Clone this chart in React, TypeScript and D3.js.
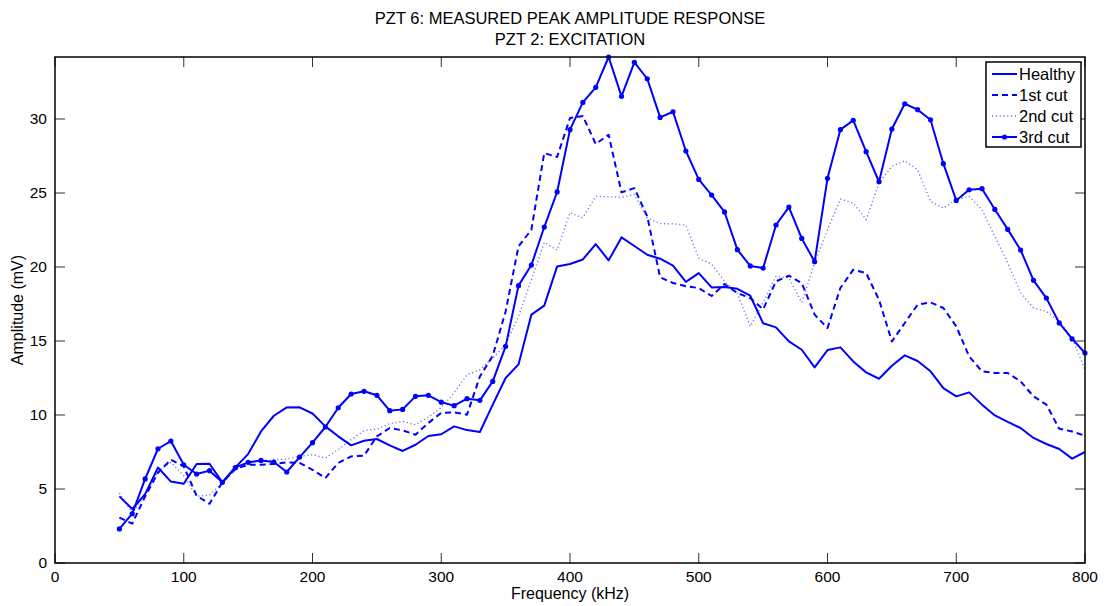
import React from "react";
import * as d3 from "d3";

// frequency samples (kHz)
const freqs = d3.range(50, 801, 10);

const healthy = [
  4.5, 3.65, 4.65, 6.45, 5.5, 5.35, 6.69, 6.71, 5.45, 6.46, 7.36, 8.89, 9.95, 10.51, 10.52, 10.1,
  9.23, 8.56, 7.95, 8.26, 8.38, 7.95, 7.57, 7.99, 8.58, 8.7, 9.23, 8.98, 8.85, 10.7, 12.5, 13.42,
  16.78, 17.39, 20.04, 20.2, 20.51, 21.55, 20.45, 22.0, 21.42, 20.83, 20.56, 20.09, 19.0, 19.59, 18.62, 18.65,
  18.53, 18.06, 16.2, 15.92, 14.97, 14.41, 13.22, 14.39, 14.57, 13.62, 12.88, 12.45, 13.33, 14.03, 13.65, 12.95,
  11.82, 11.26, 11.53, 10.7, 9.97, 9.53, 9.12, 8.45, 8.04, 7.7, 7.05, 7.5,
];

const cut1 = [
  3.07, 2.66, 4.5, 6.1, 6.98, 6.53, 4.55, 4.0, 5.45, 6.35, 6.64, 6.64, 6.7, 6.8, 6.76, 6.3,
  5.74, 6.76, 7.2, 7.25, 8.56, 9.12, 8.96, 8.67, 9.46, 10.15, 10.18, 10.02, 12.6, 14.0, 17.0, 21.39,
  22.52, 27.7, 27.43, 30.07, 30.2, 28.31, 28.94, 25.04, 25.33, 23.42, 19.3, 18.92, 18.7, 18.58, 18.04, 18.85,
  18.24, 17.9, 17.14, 19.03, 19.41, 18.92, 16.78, 15.88, 18.58, 19.82, 19.59, 17.79, 14.97, 16.22, 17.45, 17.61,
  17.23, 15.99, 13.96, 12.95, 12.84, 12.84, 12.27, 11.26, 10.7, 9.07, 8.89, 8.6,
];

const cut2 = [
  4.73, 3.38, 4.6, 6.2, 6.8, 5.9, 4.5, 4.61, 5.4, 6.3, 6.76, 6.93, 6.98, 7.03, 7.2, 7.32,
  7.09, 7.66, 8.33, 8.94, 9.05, 9.41, 9.57, 9.34, 9.86, 10.5, 11.5, 12.72, 13.06, 13.85, 14.75, 16.66,
  19.14, 21.66, 21.15, 23.67, 23.33, 24.77, 24.75, 24.7, 24.9, 23.3, 22.93, 22.92, 22.83, 20.6, 20.2, 19.03,
  18.2, 15.99, 17.6, 19.37, 19.26, 17.6, 20.27, 22.52, 24.59, 24.32, 23.2, 25.68, 26.8, 27.18, 26.57, 24.43,
  23.98, 24.55, 24.77, 23.87, 22.07, 20.27, 18.24, 17.23, 17.0, 16.32, 15.2, 13.06,
];

const cut3 = [
  2.3, 3.33, 5.68, 7.72, 8.24, 6.64, 6.01, 6.24, 5.45, 6.44, 6.8, 6.93, 6.82, 6.15, 7.16, 8.13,
  9.19, 10.49, 11.42, 11.6, 11.33, 10.29, 10.38, 11.26, 11.33, 10.87, 10.63, 11.1, 10.99, 12.27, 14.64, 18.74,
  20.13, 22.7, 25.07, 29.28, 31.12, 32.14, 34.19, 31.53, 33.83, 32.72, 30.11, 30.49, 27.84, 25.92, 24.86, 23.72,
  21.17, 20.07, 19.93, 22.84, 24.05, 21.93, 20.36, 25.99, 29.28, 29.91, 27.79, 25.76, 29.32, 31.03, 30.63, 29.95,
  26.98, 24.5, 25.22, 25.29, 23.89, 22.54, 21.15, 19.1, 17.9, 16.22, 15.14, 14.19,
];

const seriesNames = ["Healthy", "1st cut", "2nd cut", "3rd cut"];
const seriesValues = [healthy, cut1, cut2, cut3];
const xTicks = [0, 100, 200, 300, 400, 500, 600, 700, 800];
const yTicks = [0, 5, 10, 15, 20, 25, 30];

const BLUE = "#0000ff";
const FONT = "'Liberation Sans', Arial, Helvetica, sans-serif";

const styles = [
  { dash: undefined, width: 2, opacity: 1, marker: false },
  { dash: "6 4", width: 2, opacity: 1, marker: false },
  { dash: "1.2 2.6", width: 1.4, opacity: 0.55, marker: false },
  { dash: undefined, width: 2, opacity: 1, marker: true },
];

export default function App() {
  const W = 1106;
  const H = 606;
  const margin = { left: 55, right: 21, top: 57, bottom: 43 };
  const iw = W - margin.left - margin.right;
  const ih = H - margin.top - margin.bottom;

  const x = d3.scaleLinear().domain([0, 800]).range([0, iw]);
  const yMax = d3.max(seriesValues, (s) => d3.max(s)) as number;
  const y = d3.scaleLinear().domain([0, yMax]).range([ih, 0]);

  const line = d3
    .line<number>()
    .x((_, i) => x(freqs[i]))
    .y((d) => y(d));

  const tickLen = 10;
  const legX = iw - 99;
  const legY = 5;

  return (
    <svg
      width={W}
      height={H}
      style={{ position: "absolute", left: 0, top: 0, background: "#fff" }}
      fontFamily={FONT}
    >
      <rect width={W} height={H} fill="#fff" />
      <text x={margin.left + iw / 2} y={24} textAnchor="middle" fontSize={16.5} fill="#000">
        PZT 6: MEASURED PEAK AMPLITUDE RESPONSE
      </text>
      <text x={margin.left + iw / 2} y={45} textAnchor="middle" fontSize={16.5} fill="#000">
        PZT 2: EXCITATION
      </text>

      <g transform={`translate(${margin.left},${margin.top})`}>
        {/* ticks on all four sides */}
        {xTicks.map((t) => (
          <g key={"xt" + t}>
            <line x1={x(t)} x2={x(t)} y1={ih} y2={ih - tickLen} stroke="#333" />
            <line x1={x(t)} x2={x(t)} y1={0} y2={tickLen} stroke="#333" />
            <text x={x(t)} y={ih + 19} textAnchor="middle" fontSize={15.5} fill="#000">
              {t}
            </text>
          </g>
        ))}
        {yTicks.map((t) => (
          <g key={"yt" + t}>
            <line x1={0} x2={tickLen} y1={y(t)} y2={y(t)} stroke="#333" />
            <line x1={iw} x2={iw - tickLen} y1={y(t)} y2={y(t)} stroke="#333" />
            <text x={-8} y={y(t) + 5} textAnchor="end" fontSize={15.5} fill="#000">
              {t}
            </text>
          </g>
        ))}

        {/* series */}
        {seriesValues.map((vals, k) => (
          <g key={"s" + k}>
            <path
              d={line(vals) || ""}
              fill="none"
              stroke={BLUE}
              strokeWidth={styles[k].width}
              strokeDasharray={styles[k].dash}
              strokeOpacity={styles[k].opacity}
              strokeLinejoin="round"
            />
            {styles[k].marker &&
              vals.map((v, i) => <circle key={i} cx={x(freqs[i])} cy={y(v)} r={2.6} fill={BLUE} />)}
          </g>
        ))}

        {/* axes box */}
        <rect x={0} y={0} width={iw} height={ih} fill="none" stroke="#000" strokeWidth={1.5} />

        {/* legend */}
        <g transform={`translate(${legX},${legY})`}>
          <rect x={0} y={0} width={95} height={85} fill="#fff" stroke="#000" strokeWidth={1.5} />
          {seriesNames.map((name, k) => {
            const ly = 12 + k * 21;
            return (
              <g key={"l" + k}>
                <line
                  x1={6}
                  x2={31}
                  y1={ly}
                  y2={ly}
                  stroke={BLUE}
                  strokeWidth={styles[k].width}
                  strokeDasharray={styles[k].dash}
                  strokeOpacity={styles[k].opacity}
                />
                {styles[k].marker && <circle cx={18.5} cy={ly} r={2.6} fill={BLUE} />}
                <text x={33} y={ly + 5.5} fontSize={16.5} fill="#000">
                  {name}
                </text>
              </g>
            );
          })}
        </g>
      </g>

      <text x={margin.left + iw / 2} y={599} textAnchor="middle" fontSize={16} fill="#000">
        Frequency (kHz)
      </text>
      <text
        transform={`translate(23,${margin.top + ih / 2}) rotate(-90)`}
        textAnchor="middle"
        fontSize={16}
        fill="#000"
      >
        Amplitude (mV)
      </text>
    </svg>
  );
}
